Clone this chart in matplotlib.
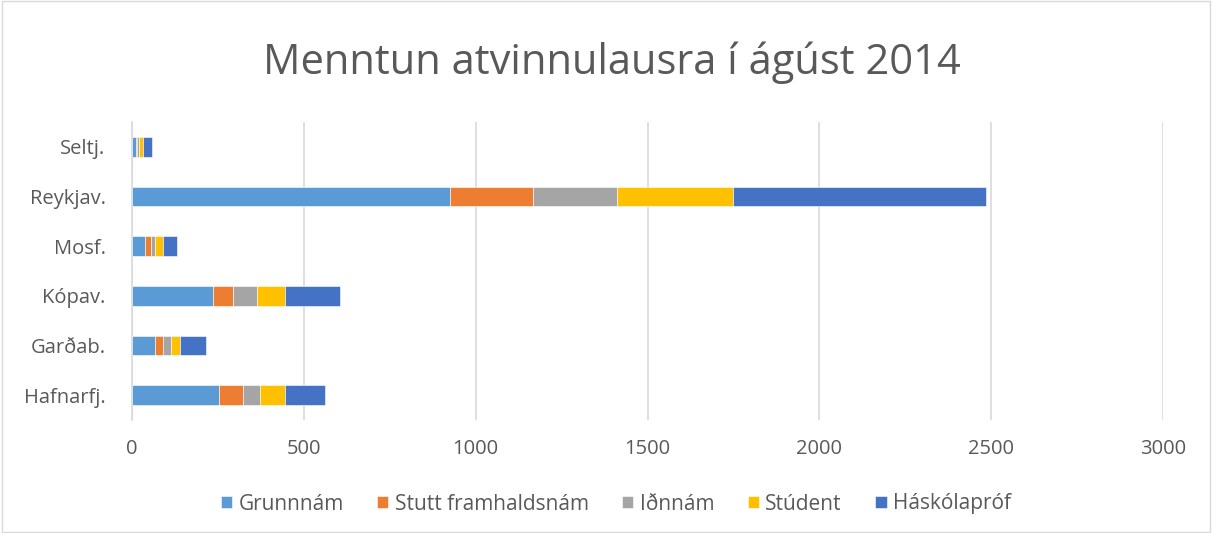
import matplotlib
matplotlib.use("Agg")
import matplotlib.pyplot as plt
import numpy as np

categories = ["Hafnarfj.", "Garðab.", "Kópav.", "Mosf.", "Reykjav.", "Seltj."]
series_names = ["Grunnnám", "Stutt framhaldsnám", "Iðnnám", "Stúdent", "Háskólapróf"]
grunnnam = [252, 68, 237, 38, 924, 12]
stutt = [72, 23, 58, 16, 242, 4]
idnnam = [47, 23, 68, 13, 244, 5]
student = [74, 25, 83, 23, 339, 11]
haskola = [117, 77, 159, 41, 736, 26]
xticks = [0, 500, 1000, 1500, 2000, 2500, 3000]
colors = ["#5B9BD5", "#ED7D31", "#A5A5A5", "#FFC000", "#4472C4"]

plt.rcParams['font.family'] = ['Open Sans', 'DejaVu Sans']

fig = plt.figure(figsize=(12.12, 5.33), dpi=100)
ax = fig.add_axes([132/1212, 1 - 420/533, (1163-132)/1212, 298/533])

y = np.arange(len(categories))
left = np.zeros(len(categories))
for name, vals, c in zip(series_names, [grunnnam, stutt, idnnam, student, haskola], colors):
    ax.barh(y, vals, left=left, height=0.39, color=c, label=name,
            edgecolor="white", linewidth=0.4, zorder=3)
    left += np.array(vals)

ax.set_xlim(0, 3000)
ax.set_ylim(-0.5, len(categories) - 0.5)
ax.set_xticks(xticks)
ax.set_xticklabels([str(t) for t in xticks])
ax.set_yticks(y)
ax.set_yticklabels(categories)
ax.tick_params(axis='both', length=0, labelsize=14.5, colors="#595959")
ax.tick_params(axis='x', pad=14)
ax.tick_params(axis='y', pad=19)
ax.grid(axis='x', color="#D9D9D9", linewidth=1.2, zorder=0)
for s in ["top", "right", "bottom"]:
    ax.spines[s].set_visible(False)
ax.spines["left"].set_color("#D9D9D9")
ax.spines["left"].set_linewidth(1.2)

fig.text(0.505, 1 - 63/533, "Menntun atvinnulausra í ágúst 2014", ha="center", va="center",
         fontsize=30, color="#595959")

handles, labels = ax.get_legend_handles_labels()
leg = fig.legend(handles, labels, loc="center", bbox_to_anchor=(0.508, 1 - 504/533), ncol=5,
                 frameon=False, fontsize=15, handlelength=0.55, handleheight=0.55,
                 handletextpad=0.3, columnspacing=1.6)
for t in leg.get_texts():
    t.set_color("#595959")

border = plt.Rectangle((0.0015, 0.002), 0.997, 0.996, transform=fig.transFigure,
                       fill=False, edgecolor="#D9D9D9", linewidth=1)
fig.patches.append(border)

fig.savefig("out.png", dpi=100)
